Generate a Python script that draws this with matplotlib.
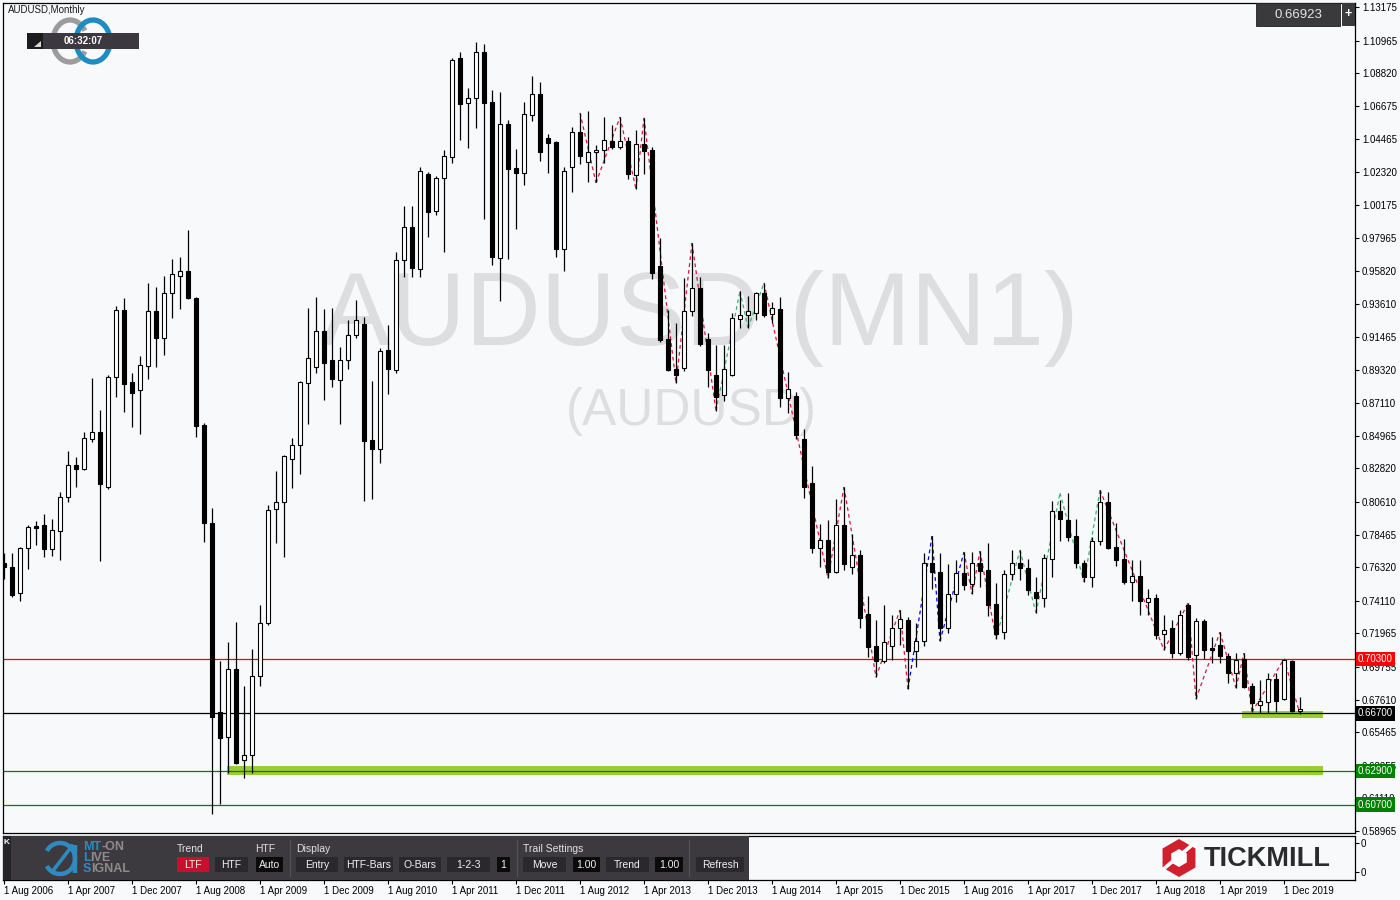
import matplotlib
matplotlib.use("Agg")
import matplotlib.pyplot as plt
from matplotlib.patches import Rectangle, Polygon, Arc
import numpy as np

plt.rcParams['font.family'] = ['Liberation Sans', 'DejaVu Sans']

# AUDUSD monthly candles, 1 Aug 2006 .. 1 Feb 2020
opens = [0.7659, 0.7633, 0.7462, 0.7758, 0.7903, 0.7910, 0.7752, 0.7870, 0.8094, 0.8304,
         0.8278, 0.8475, 0.8521, 0.8160, 0.8883, 0.9324, 0.8850, 0.8798, 0.8956, 0.9318,
         0.9140, 0.9436, 0.9548, 0.9581, 0.9403, 0.8568, 0.7923, 0.6679, 0.6515, 0.6962,
         0.6363, 0.6396, 0.6916, 0.7265, 0.8015, 0.8061, 0.8344, 0.8436, 0.8844, 0.8949,
         0.9186, 0.8995, 0.8864, 0.8995, 0.9160, 0.9232, 0.8469, 0.8410, 0.9061, 0.8929,
         0.9653, 0.9870, 0.9594, 1.0219, 0.9976, 1.0193, 1.0331, 1.0982, 1.0687, 1.0716,
         1.1022, 1.0693, 0.9666, 1.0548, 1.0259, 1.0226, 1.0607, 1.0745, 1.0456, 1.0430,
         0.9726, 1.0265, 1.0495, 1.0298, 1.0362, 1.0377, 1.0436, 1.0397, 1.0436, 1.0213,
         1.0417, 1.0377, 0.9614, 0.9133, 0.8936, 0.8943, 0.9318, 0.9469, 0.9133, 0.8897,
         0.8765, 0.8897, 0.9265, 0.9291, 0.9305, 0.9436, 0.9298, 0.9331, 0.8745, 0.8758,
         0.8475, 0.8186, 0.7758, 0.7811, 0.7600, 0.7910, 0.7633, 0.7712, 0.7324, 0.7113,
         0.7015, 0.7113, 0.7232, 0.7284, 0.7080, 0.7146, 0.7659, 0.7600, 0.7232, 0.7456,
         0.7594, 0.7521, 0.7659, 0.7613, 0.7390, 0.7205, 0.7587, 0.7659, 0.7627, 0.7469,
         0.7429, 0.7686, 0.8002, 0.7942, 0.7837, 0.7659, 0.7567, 0.7804, 0.8061, 0.7765,
         0.7686, 0.7534, 0.7574, 0.7403, 0.7429, 0.7192, 0.7232, 0.7067, 0.7383, 0.7054,
         0.7278, 0.7100, 0.7120, 0.7048, 0.6936, 0.7028, 0.6850, 0.6725, 0.6745, 0.6896,
         0.6765, 0.7015, 0.6686]
highs = [0.7725, 0.7725, 0.7765, 0.7910, 0.7936, 0.7982, 0.7949, 0.8127, 0.8396, 0.8357,
         0.8521, 0.8877, 0.8666, 0.8897, 0.9350, 0.9403, 0.8910, 0.9022, 0.9502, 0.9476,
         0.9548, 0.9660, 0.9673, 0.9851, 0.9410, 0.8581, 0.8021, 0.7015, 0.7140, 0.7271,
         0.6850, 0.7094, 0.7383, 0.8041, 0.8265, 0.8370, 0.8482, 0.8860, 0.9337, 0.9410,
         0.9331, 0.9337, 0.9081, 0.9258, 0.9390, 0.9278, 0.8860, 0.9074, 0.9226, 0.9706,
         1.0009, 1.0009, 1.0265, 1.0232, 1.0206, 1.0377, 1.0982, 1.1022, 1.0785, 1.1088,
         1.1075, 1.0772, 1.0759, 1.0574, 1.0384, 1.0693, 1.0864, 1.0824, 1.0482, 1.0436,
         1.0265, 1.0528, 1.0621, 1.0634, 1.0410, 1.0594, 1.0541, 1.0594, 1.0463, 1.0510,
         1.0588, 1.0397, 0.9798, 0.9324, 0.9239, 0.9535, 0.9765, 0.9541, 0.9173, 0.9094,
         0.9094, 0.9305, 0.9449, 0.9416, 0.9443, 0.9502, 0.9377, 0.9410, 0.8916, 0.8785,
         0.8541, 0.8298, 0.7916, 0.7942, 0.8081, 0.8160, 0.7850, 0.7745, 0.7442, 0.7284,
         0.7383, 0.7317, 0.7350, 0.7304, 0.7265, 0.7725, 0.7837, 0.7725, 0.7653, 0.7679,
         0.7732, 0.7732, 0.7738, 0.7791, 0.7528, 0.7613, 0.7745, 0.7745, 0.7686, 0.7567,
         0.7719, 0.8067, 0.8074, 0.8120, 0.7949, 0.7679, 0.7830, 0.8140, 0.8127, 0.7923,
         0.7817, 0.7679, 0.7679, 0.7488, 0.7456, 0.7317, 0.7284, 0.7350, 0.7396, 0.7298,
         0.7291, 0.7172, 0.7205, 0.7067, 0.7067, 0.7067, 0.6870, 0.6890, 0.6936, 0.6936,
         0.7028, 0.7021, 0.6778]
lows = [0.7554, 0.7436, 0.7409, 0.7620, 0.7778, 0.7699, 0.7706, 0.7679, 0.8061, 0.8160,
        0.8270, 0.8456, 0.7673, 0.8146, 0.8752, 0.8653, 0.8554, 0.8508, 0.8870, 0.8949,
        0.9028, 0.9272, 0.9331, 0.9397, 0.8489, 0.7798, 0.6008, 0.6074, 0.6278, 0.6337,
        0.6245, 0.6278, 0.6850, 0.7251, 0.7791, 0.7699, 0.8153, 0.8245, 0.8574, 0.8910,
        0.8732, 0.8818, 0.8574, 0.8936, 0.9140, 0.8067, 0.8081, 0.8318, 0.8772, 0.8910,
        0.9541, 0.9541, 0.9541, 0.9805, 0.9951, 0.9706, 1.0292, 1.0443, 1.0390, 1.0522,
        0.9923, 0.9620, 0.9383, 0.9660, 0.9857, 1.0147, 1.0568, 1.0305, 1.0226, 0.9673,
        0.9581, 1.0101, 1.0285, 1.0166, 1.0166, 1.0292, 1.0384, 1.0384, 1.0186, 1.0120,
        1.0219, 0.9528, 0.9114, 0.8923, 0.8844, 0.8923, 0.9285, 0.9087, 0.8818, 0.8660,
        0.8725, 0.8890, 0.9206, 0.9206, 0.9258, 0.9278, 0.9239, 0.8686, 0.8646, 0.8475,
        0.8087, 0.7725, 0.7633, 0.7561, 0.7594, 0.7613, 0.7587, 0.7232, 0.7041, 0.6909,
        0.7002, 0.7021, 0.7120, 0.6830, 0.6975, 0.7113, 0.7488, 0.7146, 0.7199, 0.7403,
        0.7482, 0.7456, 0.7502, 0.7311, 0.7160, 0.7160, 0.7548, 0.7548, 0.7449, 0.7330,
        0.7370, 0.7567, 0.7804, 0.7804, 0.7627, 0.7534, 0.7502, 0.7778, 0.7752, 0.7640,
        0.7521, 0.7409, 0.7317, 0.7317, 0.7160, 0.7087, 0.7034, 0.7054, 0.7021, 0.6765,
        0.7028, 0.7002, 0.7002, 0.6870, 0.6837, 0.6837, 0.6679, 0.6672, 0.6672, 0.6679,
        0.6758, 0.6679, 0.6666]
closes = [0.7633, 0.7449, 0.7758, 0.7896, 0.7890, 0.7752, 0.7877, 0.8094, 0.8304, 0.8278,
          0.8482, 0.8521, 0.8179, 0.8883, 0.9324, 0.8837, 0.8778, 0.8962, 0.9318, 0.9140,
          0.9436, 0.9561, 0.9581, 0.9403, 0.8561, 0.7923, 0.6646, 0.6508, 0.6962, 0.6344,
          0.6396, 0.6916, 0.7265, 0.8006, 0.8061, 0.8364, 0.8436, 0.8850, 0.9008, 0.9186,
          0.8976, 0.8870, 0.8995, 0.9160, 0.9258, 0.8462, 0.8410, 0.9054, 0.8936, 0.9653,
          0.9870, 0.9601, 1.0239, 0.9969, 1.0193, 1.0338, 1.0969, 1.0680, 1.0716, 1.1022,
          1.0687, 0.9673, 1.0548, 1.0252, 1.0226, 1.0614, 1.0745, 1.0362, 1.0423, 0.9726,
          1.0239, 1.0495, 1.0338, 1.0362, 1.0377, 1.0443, 1.0397, 1.0436, 1.0219, 1.0417,
          1.0370, 0.9568, 0.9127, 0.8929, 0.8897, 0.9318, 0.9469, 0.9101, 0.8929, 0.8752,
          0.8936, 0.9272, 0.9291, 0.9318, 0.9436, 0.9291, 0.9337, 0.8745, 0.8804, 0.8502,
          0.8160, 0.7758, 0.7811, 0.7600, 0.7910, 0.7653, 0.7712, 0.7300, 0.7107, 0.7015,
          0.7140, 0.7232, 0.7291, 0.7080, 0.7146, 0.7659, 0.7600, 0.7232, 0.7456, 0.7594,
          0.7515, 0.7659, 0.7607, 0.7383, 0.7192, 0.7587, 0.7659, 0.7627, 0.7482, 0.7429,
          0.7692, 0.8002, 0.7949, 0.7830, 0.7659, 0.7567, 0.7804, 0.8061, 0.7758, 0.7679,
          0.7534, 0.7574, 0.7409, 0.7429, 0.7186, 0.7219, 0.7067, 0.7317, 0.7041, 0.7278,
          0.7087, 0.7087, 0.7048, 0.6936, 0.7021, 0.6844, 0.6738, 0.6751, 0.6896, 0.6751,
          0.7021, 0.6686, 0.6692]

date_labels = ["1 Aug 2006", "1 Apr 2007", "1 Dec 2007", "1 Aug 2008", "1 Apr 2009",
               "1 Dec 2009", "1 Aug 2010", "1 Apr 2011", "1 Dec 2011", "1 Aug 2012",
               "1 Apr 2013", "1 Dec 2013", "1 Aug 2014", "1 Apr 2015", "1 Dec 2015",
               "1 Aug 2016", "1 Apr 2017", "1 Dec 2017", "1 Aug 2018", "1 Apr 2019",
               "1 Dec 2019"]
price_ticks = [1.13175, 1.10965, 1.08820, 1.06675, 1.04465, 1.02320, 1.00175, 0.97965,
               0.95820, 0.93610, 0.91465, 0.89320, 0.87110, 0.84965, 0.82820, 0.80610,
               0.78465, 0.76320, 0.74110, 0.71965, 0.69755, 0.67610, 0.65465, 0.63255,
               0.61110, 0.58965]

# zigzag overlay of the signal indicator (bar index, price), one colour per leg
zz_idx = [72, 74, 77, 79, 80, 84, 86, 89, 92, 93, 95, 103, 105, 109, 112, 113, 116, 117,
          120, 121, 122, 124, 127, 129, 132, 135, 137, 145, 148, 149, 152, 154, 155, 156,
          160, 162]
zz_price = [1.0621, 1.0160, 1.0594, 1.0120, 1.0588, 0.8844, 0.9765, 0.8660, 0.9449, 0.9206,
            0.9502, 0.7561, 0.8160, 0.6909, 0.7350, 0.6830, 0.7837, 0.7146, 0.7732, 0.7456,
            0.7738, 0.7160, 0.7745, 0.7330, 0.8120, 0.7534, 0.8140, 0.7087, 0.7396, 0.6765,
            0.7205, 0.6837, 0.7067, 0.6679, 0.7028, 0.6666]
zz_legs = "rrrrrrrgggrrrrrbbbrrrgggggrrrrrrrrr"

# horizontal levels and zones
level_prices = [0.70300, 0.66700, 0.62900, 0.60700]
level_names = ["0.70300", "0.66700", "0.62900", "0.60700"]
level_colors = ["#FF0000", "#000000", "#008000", "#008000"]
zone_start = [27.9, 154.8]
zone_end = [164.9, 164.9]
zone_low = [0.6264, 0.6642]
zone_high = [0.6324, 0.6688]
current_price = "0.66923"

BG = "#F8F9FB"
W, H = 1400, 900


def rect(x0, y0, x1, y1):
    return [x0 / W, 1 - y1 / H, (x1 - x0) / W, (y1 - y0) / H]


fig = plt.figure(figsize=(14, 9), dpi=100, facecolor=BG)

# ---- main price chart
ax = fig.add_axes(rect(3, 3, 1355, 833), facecolor=BG)
ax.set_xlim(-0.125, 168.875)
ax.set_ylim(0.5883, 1.1344)

o, h, l, c = map(np.array, (opens, highs, lows, closes))
idx = np.arange(len(o))
up = c >= o

ax.text(87.0, 0.9094, "AUDUSD (MN1)", ha="center", va="baseline", fontsize=75,
        color="#DDDEDF", zorder=0)
ax.text(85.9, 0.8567, "(AUDUSD)", ha="center", va="baseline", fontsize=37,
        color="#DDDEDF", zorder=0)

for x0, x1, lo, hi in zip(zone_start, zone_end, zone_low, zone_high):
    ax.add_patch(Rectangle((x0, lo), x1 - x0, hi - lo, facecolor="#9ACD32",
                           edgecolor="none", zorder=1))
for p, col in zip(level_prices, level_colors):
    ax.axhline(p, color=col, lw=0.9, zorder=1.5)

leg_col = {"r": "#DC143C", "g": "#3CB371", "b": "#0000FF"}
for k, code in enumerate(zz_legs):
    ax.plot(zz_idx[k:k + 2], zz_price[k:k + 2], color=leg_col[code], lw=0.9,
            ls=(0, (3, 2.5)), zorder=2)

ax.vlines(idx, l, h, color="black", lw=0.9, zorder=3)
body_lo = np.minimum(o, c)
body_h = np.maximum(np.abs(c - o), 0.0012)
ax.bar(idx, body_h, bottom=body_lo, width=0.62,
       color=np.where(up, "white", "black"), edgecolor="black", linewidth=0.8, zorder=4)

ax.yaxis.tick_right()
ax.set_yticks(price_ticks, [f"{p:.5f}" for p in price_ticks])
ax.tick_params(axis="y", direction="out", length=3, width=0.8, pad=2, labelsize=7,
               colors="black")
ax.set_xticks([])
for s in ax.spines.values():
    s.set_color("black")
    s.set_linewidth(0.9)

tf = ax.get_yaxis_transform()
for p, name, col in zip(level_prices, level_names, level_colors):
    ax.text(1.0022, p, name, transform=tf, ha="left", va="center", fontsize=7,
            color="white", zorder=10, clip_on=False,
            bbox=dict(boxstyle="square,pad=0.22", fc=col, ec="none"))

# ---- indicator sub-window with date axis
ind = fig.add_axes(rect(3, 836, 1355, 880), facecolor=BG)
ind.set_xlim(-0.125, 168.875)
ind.set_ylim(0, 1)
ind.yaxis.tick_right()
ind.set_yticks([0.18, 0.84], ["0", "0"])
ind.set_xticks(np.arange(len(date_labels)) * 8, date_labels)
for lab in ind.get_xticklabels():
    lab.set_horizontalalignment("left")
ind.tick_params(direction="out", length=3, width=0.8, pad=1, labelsize=7, colors="black")
for s in ind.spines.values():
    s.set_color("black")
    s.set_linewidth(0.9)

# ---- terminal decorations in pixel space
ui = fig.add_axes([0, 0, 1, 1], zorder=5)
ui.set_xlim(0, W)
ui.set_ylim(H, 0)
ui.axis("off")

ui.text(8, 10, "AUDUSD,Monthly", fontsize=7, va="center", color="#1A1A1A")
ui.add_patch(Arc((70, 41), 34, 42, theta1=35, theta2=325, color="#9C9C9C", lw=3.8))
ui.add_patch(Arc((93, 41), 34, 42, theta1=-160, theta2=160, color="#1E8BC3", lw=3.8))
ui.add_patch(Rectangle((27, 33), 112, 16, facecolor="#3B393F", edgecolor="none"))
ui.add_patch(Rectangle((27, 33), 16, 16, facecolor="#1C1C1E", edgecolor="none"))
ui.add_patch(Polygon([(34, 47), (41, 47), (41, 41)], closed=True, facecolor="#D8D8D8"))
ui.text(83, 41.5, "06:32:07", fontsize=7, weight="bold", color="white",
        ha="center", va="center")

ui.add_patch(Rectangle((1256, 3), 84, 23, facecolor="#3A3A3D", edgecolor="#222222", lw=0.6))
ui.text(1298, 15, current_price, fontsize=9.5, color="#E4E4E4", ha="center", va="center")
ui.add_patch(Rectangle((1342, 3), 13, 23, facecolor="#3A3A3D", edgecolor="none"))
ui.text(1348.5, 14.5, "+", fontsize=9, weight="bold", color="white", ha="center",
        va="center")

# toolbar
ui.add_patch(Rectangle((3, 836), 746, 44, facecolor="#3C3A3F", edgecolor="none"))
ui.add_patch(Rectangle((3, 836), 8, 44, facecolor="#262428", edgecolor="none"))
ui.text(7, 843, "K", fontsize=6, color="white", ha="center", va="center", weight="bold")

blue, grey = "#2E8BC0", "#8C8C8C"
ui.add_patch(Arc((60, 858.5), 30, 31, theta1=-150, theta2=150, color=blue, lw=3.2))
ui.plot([75, 75], [845, 873], color=blue, lw=3.2, solid_capstyle="butt")
ui.plot([52, 72], [872, 846], color=blue, lw=2.6)
for y, first, rest, dx in [(847.5, "MT", "-ON", 18.5), (858, "L", "IVE", 7.5),
                           (869, "S", "IGNAL", 8.5)]:
    ui.text(83, y, first, fontsize=9, weight="bold", color=blue, va="center")
    ui.text(83 + dx, y, rest, fontsize=9, weight="bold", color=grey, va="center")

for x, s in [(177, "Trend"), (255, "HTF"), (296, "Display"), (523, "Trail Settings")]:
    ui.text(x, 849, s, fontsize=7.5, color="#E2E2E2", va="center")
for x in (290, 517, 689):
    ui.plot([x, x], [840, 876], color="#56545A", lw=0.8)

buttons = [(177, 209, "LTF", "#C8102E"), (215, 248, "HTF", "#2A282D"),
           (256, 283, "Auto", "#0B0B0B"), (296, 338, "Entry", "#2A282D"),
           (344, 393, "HTF-Bars", "#2A282D"), (399, 441, "O-Bars", "#2A282D"),
           (447, 490, "1-2-3", "#2A282D"), (497, 510, "1", "#0B0B0B"),
           (523, 566, "Move", "#2A282D"), (573, 600, "1.00", "#0B0B0B"),
           (606, 649, "Trend", "#2A282D"), (655, 683, "1.00", "#0B0B0B"),
           (696, 744, "Refresh", "#2A282D")]
for x0, x1, s, fc in buttons:
    ui.add_patch(Rectangle((x0, 857), x1 - x0, 15, facecolor=fc, edgecolor="none"))
    ui.text((x0 + x1) / 2, 864.5, s, fontsize=7.5, color="#F0F0F0", ha="center",
            va="center")

# broker logo
cx, cy, r = 1179, 858, 19
ang = np.radians([90, 150, 210, 270, 330, 30])
ui.add_patch(Polygon(np.c_[cx + r * np.cos(ang), cy - r * np.sin(ang)], closed=True,
                     facecolor="#D0202E", edgecolor="none"))
ui.add_patch(Polygon(np.c_[cx + 9 * np.cos(ang), cy - 9 * np.sin(ang)], closed=True,
                     facecolor="white", edgecolor="none"))
for a in (np.radians(40), np.radians(220)):
    ui.plot([cx + 7 * np.cos(a), cx + 21 * np.cos(a)],
            [cy - 7 * np.sin(a) - 2, cy - 21 * np.sin(a) - 2], color="white", lw=2.6)
ui.text(1204, 859, "TICKMILL", fontsize=19.5, weight="bold", color="#2B2B2B",
        va="center", ha="left")

fig.savefig("out.png", dpi=100, facecolor=BG)
